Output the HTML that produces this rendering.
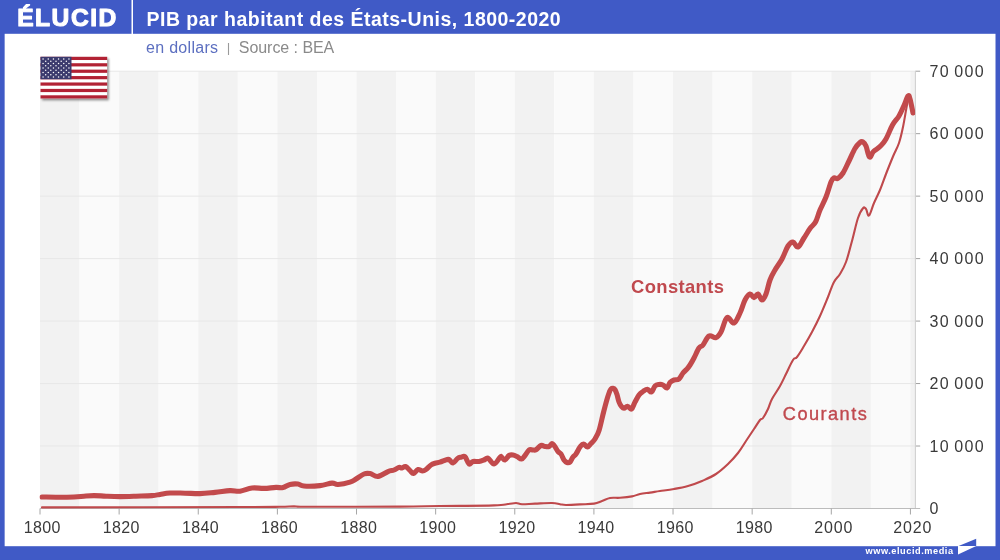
<!DOCTYPE html>
<html lang="fr"><head><meta charset="utf-8"><title>PIB par habitant des États-Unis, 1800-2020</title>
<style>
html,body{margin:0;padding:0;}
body{width:1000px;height:560px;overflow:hidden;background:#405ac6;font-family:"Liberation Sans",sans-serif;}
svg{display:block;position:absolute;left:0;top:0;}
text{font-family:"Liberation Sans",sans-serif;}
.ax{font-size:16px;fill:#3a3a3a;}
</style></head><body>
<svg width="1000" height="560" viewBox="0 0 1000 560">
<defs><clipPath id="pc"><rect x="39.5" y="71.2" width="875.6999999999999" height="439.3"/></clipPath><filter id="sh" x="-10%" y="-10%" width="130%" height="130%"><feGaussianBlur stdDeviation="1.0"/></filter></defs>
<rect x="0" y="0" width="1000" height="560" fill="#405ac6"/>
<rect x="4.65" y="33.8" width="990.85" height="512.4" fill="#ffffff"/>
<rect x="131.5" y="0" width="1.5" height="34" fill="#ffffff"/>
<text id="logo" x="17.2" y="26.4" font-size="24.6" font-weight="700" fill="#fff" letter-spacing="1.5" stroke="#fff" stroke-width="1.1" stroke-linejoin="round">ÉLUCID</text>
<text id="title" x="146.5" y="26.3" font-size="19.5" font-weight="700" fill="#fff" letter-spacing="0.48">PIB par habitant des États-Unis, 1800-2020</text>
<text id="sub1" x="146" y="52.5" font-size="16" fill="#5c6fc0" letter-spacing="0.3">en dollars</text><text id="sub2" x="228.4" y="51.5" font-size="13.5" fill="#9a9a9a" text-anchor="middle">|</text><text id="sub3" x="238.8" y="52.5" font-size="16" fill="#8a8a8a" letter-spacing="-0.05">Source : BEA</text>
<g id="bands">
<rect x="40.00" y="71.2" width="39.56" height="437.30" fill="#f2f2f2"/>
<rect x="79.56" y="71.2" width="39.56" height="437.30" fill="#fafafa"/>
<rect x="119.13" y="71.2" width="39.56" height="437.30" fill="#f2f2f2"/>
<rect x="158.69" y="71.2" width="39.56" height="437.30" fill="#fafafa"/>
<rect x="198.26" y="71.2" width="39.57" height="437.30" fill="#f2f2f2"/>
<rect x="237.83" y="71.2" width="39.56" height="437.30" fill="#fafafa"/>
<rect x="277.39" y="71.2" width="39.56" height="437.30" fill="#f2f2f2"/>
<rect x="316.95" y="71.2" width="39.56" height="437.30" fill="#fafafa"/>
<rect x="356.52" y="71.2" width="39.57" height="437.30" fill="#f2f2f2"/>
<rect x="396.09" y="71.2" width="39.56" height="437.30" fill="#fafafa"/>
<rect x="435.65" y="71.2" width="39.56" height="437.30" fill="#f2f2f2"/>
<rect x="475.22" y="71.2" width="39.56" height="437.30" fill="#fafafa"/>
<rect x="514.78" y="71.2" width="39.57" height="437.30" fill="#f2f2f2"/>
<rect x="554.35" y="71.2" width="39.56" height="437.30" fill="#fafafa"/>
<rect x="593.91" y="71.2" width="39.57" height="437.30" fill="#f2f2f2"/>
<rect x="633.48" y="71.2" width="39.56" height="437.30" fill="#fafafa"/>
<rect x="673.04" y="71.2" width="39.57" height="437.30" fill="#f2f2f2"/>
<rect x="712.61" y="71.2" width="39.57" height="437.30" fill="#fafafa"/>
<rect x="752.17" y="71.2" width="39.56" height="437.30" fill="#f2f2f2"/>
<rect x="791.74" y="71.2" width="39.57" height="437.30" fill="#fafafa"/>
<rect x="831.30" y="71.2" width="39.56" height="437.30" fill="#f2f2f2"/>
<rect x="870.87" y="71.2" width="39.57" height="437.30" fill="#fafafa"/>
<rect x="910.43" y="71.2" width="4.97" height="437.30" fill="#f2f2f2"/>
</g>
<g id="grid" stroke="#e7e7e7" stroke-width="1">
<line x1="40.0" y1="446.03" x2="915.4" y2="446.03"/>
<line x1="40.0" y1="383.56" x2="915.4" y2="383.56"/>
<line x1="40.0" y1="321.09" x2="915.4" y2="321.09"/>
<line x1="40.0" y1="258.61" x2="915.4" y2="258.61"/>
<line x1="40.0" y1="196.14" x2="915.4" y2="196.14"/>
<line x1="40.0" y1="133.67" x2="915.4" y2="133.67"/>
<line x1="40.0" y1="71.20" x2="915.4" y2="71.20"/>
</g>
<g id="yticks" stroke="#a0a0a0" stroke-width="1">
<line x1="915.4" y1="446.03" x2="920.1999999999999" y2="446.03"/>
<line x1="915.4" y1="383.56" x2="920.1999999999999" y2="383.56"/>
<line x1="915.4" y1="321.09" x2="920.1999999999999" y2="321.09"/>
<line x1="915.4" y1="258.61" x2="920.1999999999999" y2="258.61"/>
<line x1="915.4" y1="196.14" x2="920.1999999999999" y2="196.14"/>
<line x1="915.4" y1="133.67" x2="920.1999999999999" y2="133.67"/>
<line x1="915.4" y1="71.20" x2="920.1999999999999" y2="71.20"/>
</g>
<line x1="915.4" y1="71.2" x2="915.4" y2="508.5" stroke="#d0d0d0" stroke-width="1.1"/>
<line x1="40.0" y1="508.5" x2="920.1999999999999" y2="508.5" stroke="#bcbcbc" stroke-width="1"/>
<g id="xticks" stroke="#a6a6a6" stroke-width="1">
<line x1="40.00" y1="508.5" x2="40.00" y2="514.5"/>
<line x1="119.13" y1="508.5" x2="119.13" y2="514.5"/>
<line x1="198.26" y1="508.5" x2="198.26" y2="514.5"/>
<line x1="277.39" y1="508.5" x2="277.39" y2="514.5"/>
<line x1="356.52" y1="508.5" x2="356.52" y2="514.5"/>
<line x1="435.65" y1="508.5" x2="435.65" y2="514.5"/>
<line x1="514.78" y1="508.5" x2="514.78" y2="514.5"/>
<line x1="593.91" y1="508.5" x2="593.91" y2="514.5"/>
<line x1="673.04" y1="508.5" x2="673.04" y2="514.5"/>
<line x1="752.17" y1="508.5" x2="752.17" y2="514.5"/>
<line x1="831.30" y1="508.5" x2="831.30" y2="514.5"/>
<line x1="910.43" y1="508.5" x2="910.43" y2="514.5"/>
</g>
<g id="xlabels" class="ax" text-anchor="middle">
<text x="42.17" y="533.2" letter-spacing="0.35">1800</text>
<text x="121.30" y="533.2" letter-spacing="0.35">1820</text>
<text x="200.44" y="533.2" letter-spacing="0.35">1840</text>
<text x="279.56" y="533.2" letter-spacing="0.35">1860</text>
<text x="358.69" y="533.2" letter-spacing="0.35">1880</text>
<text x="437.83" y="533.2" letter-spacing="0.35">1900</text>
<text x="516.95" y="533.2" letter-spacing="0.35">1920</text>
<text x="596.08" y="533.2" letter-spacing="0.35">1940</text>
<text x="675.21" y="533.2" letter-spacing="0.35">1960</text>
<text x="754.35" y="533.2" letter-spacing="0.35">1980</text>
<text x="833.73" y="533.2" letter-spacing="0.85">2000</text>
<text x="912.86" y="533.2" letter-spacing="0.85">2020</text>
</g>
<g id="ylabels" class="ax">
<text x="929.6" y="514.30" letter-spacing="1.3" word-spacing="-1.5">0</text>
<text x="929.6" y="451.83" letter-spacing="1.3" word-spacing="-1.5">10 000</text>
<text x="929.6" y="389.36" letter-spacing="1.3" word-spacing="-1.5">20 000</text>
<text x="929.6" y="326.89" letter-spacing="1.3" word-spacing="-1.5">30 000</text>
<text x="929.6" y="264.41" letter-spacing="1.3" word-spacing="-1.5">40 000</text>
<text x="929.6" y="201.94" letter-spacing="1.3" word-spacing="-1.5">50 000</text>
<text x="929.6" y="139.47" letter-spacing="1.3" word-spacing="-1.5">60 000</text>
<text x="929.6" y="77.00" letter-spacing="1.3" word-spacing="-1.5">70 000</text>
</g>
<g clip-path="url(#pc)">
<path id="thin" fill="none" stroke="#bf494c" stroke-width="2.1" stroke-linejoin="round" stroke-linecap="round" d="M42,507.4C77.6,507.3 197.2,507.1 240,507C282.8,506.9 270.3,506.9 280,506.8C289.7,506.7 288.6,506.4 294,506.4C299.4,506.4 290.9,506.8 310,506.8C329.1,506.8 376.6,506.7 400,506.6C423.4,506.5 423.1,506.2 440,506C456.9,505.8 481.8,505.8 494,505.4C506.2,505.0 504.0,504.4 508,504C512.0,503.6 513.5,503.0 516,503C518.5,503.0 518.6,504.1 522,504.2C525.4,504.3 529.6,503.8 535,503.6C540.4,503.4 547.5,502.9 552,503C556.5,503.1 557.5,503.8 560,504.2C562.5,504.6 562.4,505.0 566,505C569.6,505.0 575.0,504.7 580,504.4C585.0,504.1 590.0,504.2 594,503.6C598.0,503.0 599.1,502.0 602,501C604.9,500.0 606.8,498.6 610,498C613.2,497.4 616.0,498.1 620,497.8C624.0,497.5 628.4,497.1 632,496.4C635.6,495.7 636.8,494.7 640,494C643.2,493.3 646.4,493.1 650,492.6C653.6,492.1 655.7,491.6 660,491C664.3,490.4 669.0,489.9 674,489C679.0,488.1 683.0,487.4 688,486C693.0,484.6 697.0,483.2 702,481C707.0,478.8 711.3,477.1 716,474C720.7,470.9 724.0,467.8 728,464C732.0,460.2 734.8,457.1 738,453C741.2,448.9 743.1,445.3 746,441C748.9,436.7 751.5,432.8 754,429C756.5,425.2 758.4,422.0 760,420C761.6,418.0 761.6,420.0 763,418C764.4,416.0 766.4,412.4 768,409C769.6,405.6 769.8,403.1 772,399C774.2,394.9 777.5,390.5 780,386C782.5,381.5 783.7,378.7 786,374C788.3,369.3 791.0,363.1 793,360C795.0,356.9 795.0,359.5 797,357C799.0,354.5 801.3,350.5 804,346C806.7,341.5 809.1,337.4 812,332C814.9,326.6 817.1,322.3 820,316C822.9,309.7 825.5,303.1 828,297C830.5,290.9 831.8,286.1 834,282C836.2,277.9 837.8,277.6 840,274C842.2,270.4 843.8,267.9 846,262C848.2,256.1 849.8,248.9 852,241C854.2,233.1 856.0,223.9 858,218C860.0,212.1 861.6,209.8 863,208.2C864.4,206.6 864.9,207.7 866,209C867.1,210.3 867.6,216.6 869,215.5C870.4,214.4 872.0,207.6 874,203C876.0,198.4 877.8,195.2 880,190C882.2,184.8 883.7,180.0 886,174C888.3,168.0 890.7,162.1 893,156.5C895.3,150.9 897.2,148.3 899,143C900.8,137.7 901.6,133.8 903,127C904.4,120.2 905.9,110.4 907,105C908.1,99.6 908.3,97.7 909,97C909.7,96.3 910.3,98.1 911,101C911.7,103.9 912.6,110.8 913,113"/>
<path id="thick" fill="none" stroke="#c24a4c" stroke-width="5.1" stroke-linejoin="round" stroke-linecap="round" d="M42,497C44.5,497.0 50.2,497.2 56,497.2C61.8,497.2 69.0,497.2 74,497C79.0,496.8 80.4,496.5 84,496.2C87.6,495.9 90.0,495.6 94,495.6C98.0,495.6 101.3,496.0 106,496.2C110.7,496.4 114.6,496.6 120,496.6C125.4,496.6 130.2,496.4 136,496.2C141.8,496.0 147.7,495.9 152,495.6C156.3,495.3 156.8,494.9 160,494.4C163.2,493.9 165.5,493.2 170,493C174.5,492.8 179.6,493.1 185,493.2C190.4,493.3 194.6,493.7 200,493.6C205.4,493.5 209.6,492.9 215,492.4C220.4,491.9 225.5,490.8 230,490.6C234.5,490.4 236.0,491.7 240,491.2C244.0,490.7 247.7,488.5 252,488C256.3,487.5 259.7,488.5 264,488.4C268.3,488.3 272.6,487.5 276,487.4C279.4,487.3 280.5,488.1 283,487.6C285.5,487.1 287.3,485.0 290,484.4C292.7,483.8 295.5,483.7 298,484C300.5,484.3 300.0,485.7 304,486C308.0,486.3 315.0,486.1 320,485.6C325.0,485.1 328.8,483.3 332,483.1C335.2,482.9 334.8,484.7 338,484.5C341.2,484.3 346.8,483.1 350,482.1C353.2,481.1 353.5,480.5 356,479C358.5,477.5 361.5,475.0 364,474C366.5,473.0 367.5,473.2 370,473.6C372.5,474.0 374.8,476.8 378,476.4C381.2,476.0 385.1,472.8 388,471.6C390.9,470.4 392.0,470.8 394,470C396.0,469.2 397.6,467.8 399,467.4C400.4,467.0 400.8,468.2 402,468C403.2,467.8 404.1,466.1 405.5,466.5C406.9,466.9 408.6,469.2 410,470.5C411.4,471.8 412.1,473.7 413.5,473.5C414.9,473.3 416.4,469.9 418,469.5C419.6,469.1 421.1,471.0 422.5,471C423.9,471.0 424.5,470.6 426,469.5C427.5,468.4 429.4,466.1 431,465C432.6,463.9 433.4,463.8 435,463.3C436.6,462.8 438.2,462.8 440,462.2C441.8,461.6 443.4,460.7 445,460.2C446.6,459.7 447.6,459.0 449,459.5C450.4,460.0 451.5,463.2 453,463C454.5,462.8 456.1,459.5 457.5,458.5C458.9,457.5 459.6,457.5 461,457.2C462.4,456.9 463.6,455.6 465,456.8C466.4,458.0 467.6,463.2 469,464C470.4,464.8 471.2,461.9 473,461.5C474.8,461.1 477.0,461.8 479,461.5C481.0,461.2 482.4,460.6 484,460C485.6,459.4 486.2,457.5 488,458.2C489.8,458.9 491.8,464.2 494,464C496.2,463.8 498.6,458.6 500,457.3C501.4,456.0 500.6,456.5 501.5,457C502.4,457.5 503.6,460.3 505,460C506.4,459.7 507.6,456.4 509,455.5C510.4,454.6 511.6,454.8 513,455C514.4,455.2 515.5,455.8 517,456.5C518.5,457.2 520.1,459.2 521.5,459C522.9,458.8 523.6,457.1 525,455.5C526.4,453.9 527.6,451.0 529,450C530.4,449.0 531.7,450.1 533,450C534.3,449.9 534.6,450.5 536,449.7C537.4,448.9 539.4,446.1 541,445.5C542.6,444.9 543.6,446.3 545,446.5C546.4,446.7 547.7,447.0 549,446.5C550.3,446.0 551.0,443.6 552,443.5C553.0,443.4 553.4,444.6 554.5,446C555.6,447.4 556.8,450.1 558,451.5C559.2,452.9 559.9,452.5 561,454C562.1,455.5 562.9,458.5 564,460C565.1,461.5 565.9,462.1 567,462.5C568.1,462.9 568.9,463.0 570,462C571.1,461.0 571.9,458.4 573,457C574.1,455.6 574.7,455.8 576,454C577.3,452.2 578.6,448.8 580,447C581.4,445.2 582.1,444.0 583.5,444C584.9,444.0 586.1,447.1 587.5,447C588.9,446.9 589.6,444.9 591,443.5C592.4,442.1 593.5,441.4 595,439C596.5,436.6 597.7,434.9 599.2,430C600.7,425.1 602.1,417.8 603.6,412C605.1,406.2 606.3,401.7 607.4,398C608.5,394.3 609.0,393.1 609.6,391.5C610.2,389.9 610.4,389.6 611,389C611.6,388.4 612.3,388.2 613,388.3C613.7,388.4 614.3,388.5 615,389.6C615.7,390.7 616.3,392.3 617,394.5C617.7,396.7 618.2,399.8 619,402C619.8,404.2 620.6,405.4 621.5,406.5C622.4,407.6 622.9,408.3 624,408.3C625.1,408.3 626.1,406.2 627.5,406.3C628.9,406.4 630.1,409.8 631.5,409C632.9,408.2 633.6,404.5 635,402C636.4,399.5 637.6,396.9 639,395C640.4,393.1 641.5,392.5 643,391.5C644.5,390.5 646.0,389.2 647.5,389.3C649.0,389.4 650.1,392.6 651.5,392C652.9,391.4 653.6,387.4 655,386C656.4,384.6 657.6,384.7 659,384.5C660.4,384.3 661.6,384.4 663,385C664.4,385.6 665.7,388.4 667,388C668.3,387.6 668.7,383.9 670,382.5C671.3,381.1 672.4,380.6 674,380C675.6,379.4 677.4,380.3 679,379C680.6,377.7 681.6,374.8 683,373C684.4,371.2 685.7,370.4 687,369C688.3,367.6 688.7,367.0 690,365C691.3,363.0 692.4,361.1 694,358C695.6,354.9 697.4,350.3 699,348C700.6,345.7 701.2,347.2 703,345C704.8,342.8 706.7,337.3 709,336C711.3,334.7 713.8,338.3 716,337.6C718.2,336.9 719.0,335.6 721,332C723.0,328.4 724.7,319.2 727,317.6C729.3,316.0 731.7,323.8 734,323C736.3,322.2 738.0,317.1 740,313C742.0,308.9 743.2,303.4 745,300C746.8,296.6 748.4,294.4 750,294C751.6,293.6 752.6,297.6 754,297.6C755.4,297.6 756.6,293.6 758,294C759.4,294.4 760.6,300.0 762,300C763.4,300.0 764.6,297.6 766,294C767.4,290.4 768.4,284.3 770,280C771.6,275.7 772.8,273.8 775,270C777.2,266.2 779.7,263.3 782,259C784.3,254.7 786.0,249.1 788,246C790.0,242.9 791.2,241.8 793,242C794.8,242.2 796.0,247.7 798,247C800.0,246.3 801.8,241.3 804,238C806.2,234.7 807.9,231.4 810,228.5C812.1,225.6 813.7,225.3 815.5,222C817.3,218.7 818.1,214.5 820,210C821.9,205.5 824.0,202.0 826,197C828.0,192.0 829.6,185.5 831,182C832.4,178.5 832.7,178.4 834,177.8C835.3,177.2 836.4,179.3 838,178.4C839.6,177.5 841.0,176.1 843,173C845.0,169.9 846.8,165.4 849,161C851.2,156.6 853.0,151.8 855,148.5C857.0,145.2 858.6,143.7 860,142.5C861.4,141.3 861.9,141.4 863,142C864.1,142.6 864.8,143.3 866,146C867.2,148.7 868.1,156.0 869.5,157C870.9,158.0 871.6,153.4 873.5,151.5C875.4,149.6 877.8,148.8 880,146.5C882.2,144.2 883.8,142.9 886,139C888.2,135.1 890.2,129.1 892.5,125C894.8,120.9 896.9,119.5 899,116C901.1,112.5 902.4,109.1 904,105.5C905.6,101.9 906.9,97.2 908,96C909.1,94.8 909.1,95.9 910,99C910.9,102.1 912.5,110.5 913,113" transform="scale(1.0,1)"/>
</g>
<text id="lab1" x="631" y="292.8" font-size="18.4" font-weight="700" fill="#c0494e" letter-spacing="0.38">Constants</text>
<text id="lab2" x="782.8" y="419.9" font-size="18.2" fill="#c0494e" stroke="#c0494e" stroke-width="0.35" letter-spacing="1.45">Courants</text>
<g id="flag">
<rect x="42.1" y="58.599999999999994" width="66.7" height="41.7" fill="#444" opacity="0.6" filter="url(#sh)"/>
<rect x="40.5" y="56.8" width="66.7" height="41.7" fill="#fff"/>
<rect x="40.5" y="56.80" width="66.7" height="3.21" fill="#b22234"/>
<rect x="40.5" y="63.22" width="66.7" height="3.21" fill="#b22234"/>
<rect x="40.5" y="69.63" width="66.7" height="3.21" fill="#b22234"/>
<rect x="40.5" y="76.05" width="66.7" height="3.21" fill="#b22234"/>
<rect x="40.5" y="82.46" width="66.7" height="3.21" fill="#b22234"/>
<rect x="40.5" y="88.88" width="66.7" height="3.21" fill="#b22234"/>
<rect x="40.5" y="95.29" width="66.7" height="3.21" fill="#b22234"/>
<rect x="40.5" y="56.8" width="31.0" height="22.45" fill="#3c3b6e"/>
<circle cx="43.08" cy="59.05" r="0.75" fill="#fff"/>
<circle cx="48.25" cy="59.05" r="0.75" fill="#fff"/>
<circle cx="53.42" cy="59.05" r="0.75" fill="#fff"/>
<circle cx="58.58" cy="59.05" r="0.75" fill="#fff"/>
<circle cx="63.75" cy="59.05" r="0.75" fill="#fff"/>
<circle cx="68.92" cy="59.05" r="0.75" fill="#fff"/>
<circle cx="45.67" cy="61.29" r="0.75" fill="#fff"/>
<circle cx="50.83" cy="61.29" r="0.75" fill="#fff"/>
<circle cx="56.00" cy="61.29" r="0.75" fill="#fff"/>
<circle cx="61.17" cy="61.29" r="0.75" fill="#fff"/>
<circle cx="66.33" cy="61.29" r="0.75" fill="#fff"/>
<circle cx="43.08" cy="63.54" r="0.75" fill="#fff"/>
<circle cx="48.25" cy="63.54" r="0.75" fill="#fff"/>
<circle cx="53.42" cy="63.54" r="0.75" fill="#fff"/>
<circle cx="58.58" cy="63.54" r="0.75" fill="#fff"/>
<circle cx="63.75" cy="63.54" r="0.75" fill="#fff"/>
<circle cx="68.92" cy="63.54" r="0.75" fill="#fff"/>
<circle cx="45.67" cy="65.78" r="0.75" fill="#fff"/>
<circle cx="50.83" cy="65.78" r="0.75" fill="#fff"/>
<circle cx="56.00" cy="65.78" r="0.75" fill="#fff"/>
<circle cx="61.17" cy="65.78" r="0.75" fill="#fff"/>
<circle cx="66.33" cy="65.78" r="0.75" fill="#fff"/>
<circle cx="43.08" cy="68.03" r="0.75" fill="#fff"/>
<circle cx="48.25" cy="68.03" r="0.75" fill="#fff"/>
<circle cx="53.42" cy="68.03" r="0.75" fill="#fff"/>
<circle cx="58.58" cy="68.03" r="0.75" fill="#fff"/>
<circle cx="63.75" cy="68.03" r="0.75" fill="#fff"/>
<circle cx="68.92" cy="68.03" r="0.75" fill="#fff"/>
<circle cx="45.67" cy="70.27" r="0.75" fill="#fff"/>
<circle cx="50.83" cy="70.27" r="0.75" fill="#fff"/>
<circle cx="56.00" cy="70.27" r="0.75" fill="#fff"/>
<circle cx="61.17" cy="70.27" r="0.75" fill="#fff"/>
<circle cx="66.33" cy="70.27" r="0.75" fill="#fff"/>
<circle cx="43.08" cy="72.52" r="0.75" fill="#fff"/>
<circle cx="48.25" cy="72.52" r="0.75" fill="#fff"/>
<circle cx="53.42" cy="72.52" r="0.75" fill="#fff"/>
<circle cx="58.58" cy="72.52" r="0.75" fill="#fff"/>
<circle cx="63.75" cy="72.52" r="0.75" fill="#fff"/>
<circle cx="68.92" cy="72.52" r="0.75" fill="#fff"/>
<circle cx="45.67" cy="74.76" r="0.75" fill="#fff"/>
<circle cx="50.83" cy="74.76" r="0.75" fill="#fff"/>
<circle cx="56.00" cy="74.76" r="0.75" fill="#fff"/>
<circle cx="61.17" cy="74.76" r="0.75" fill="#fff"/>
<circle cx="66.33" cy="74.76" r="0.75" fill="#fff"/>
<circle cx="43.08" cy="77.01" r="0.75" fill="#fff"/>
<circle cx="48.25" cy="77.01" r="0.75" fill="#fff"/>
<circle cx="53.42" cy="77.01" r="0.75" fill="#fff"/>
<circle cx="58.58" cy="77.01" r="0.75" fill="#fff"/>
<circle cx="63.75" cy="77.01" r="0.75" fill="#fff"/>
<circle cx="68.92" cy="77.01" r="0.75" fill="#fff"/>
</g>
<polygon points="958,546.3 976.2,538.7 976.2,546.3" fill="#405ac6"/>
<polygon points="958,546.1 976.2,546.1 958,554.4" fill="#fff"/>
<text id="url" x="865.5" y="554" font-size="9.2" font-weight="700" fill="#fff" letter-spacing="0.55">www.elucid.media</text>
</svg>
</body></html>
